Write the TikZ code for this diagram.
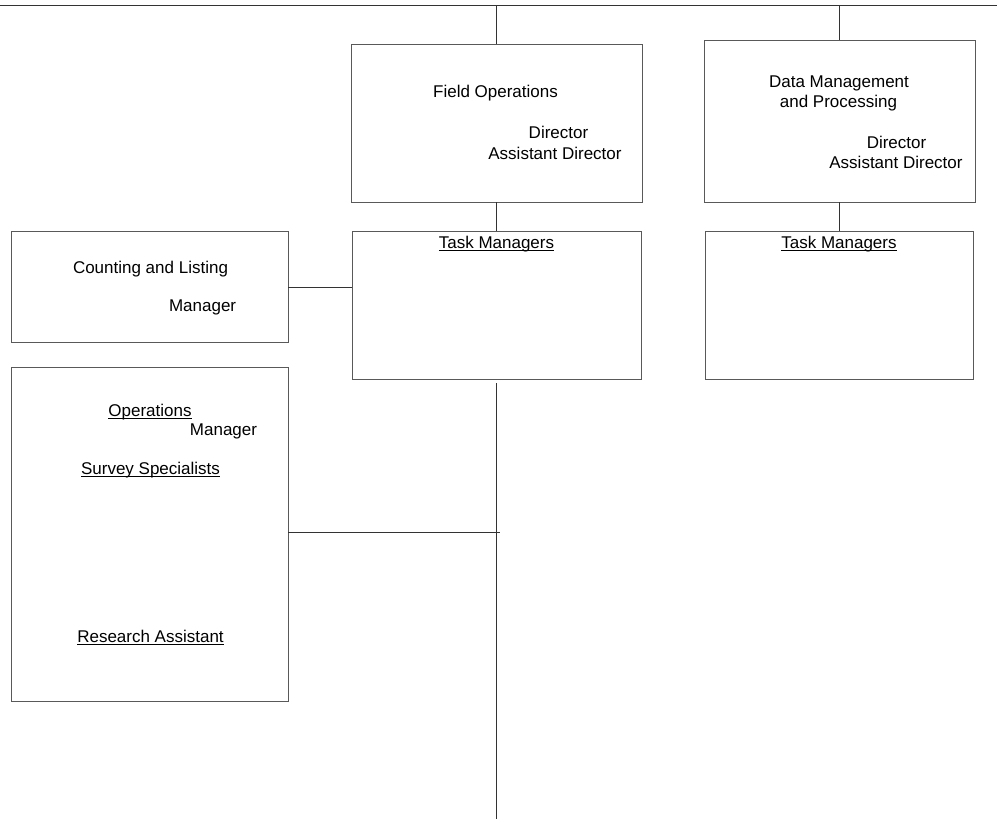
\documentclass[tikz,border=0pt]{standalone}
\usepackage{fontspec}
\setmainfont{Liberation Sans}
\newcommand\myul[1]{\setbox0\hbox{#1}\rlap{\rule[-2.6pt]{\wd0}{1pt}}\box0}
\begin{document}
\begin{tikzpicture}[x=1pt,y=-1pt,
  line/.style={draw=black!80,line width=1pt},
  box/.style={draw=black!65,line width=1pt,rectangle,inner sep=0pt,outer sep=0pt,anchor=north west},
  txt/.style={anchor=base,inner sep=0pt,font=\fontsize{17}{20}\selectfont}]
\useasboundingbox[fill=white] (0,0) rectangle (997,819);
% boxes
\node[box,minimum width=291pt,minimum height=158pt] (fo) at (351,44) {};
\node[box,minimum width=271pt,minimum height=162pt] (dm) at (704,40) {};
\node[box,minimum width=289pt,minimum height=148pt] (tf) at (352,231) {};
\node[box,minimum width=268pt,minimum height=148pt] (td) at (705,231) {};
\node[box,minimum width=277pt,minimum height=111pt] (cl) at (11,231) {};
\node[box,minimum width=277pt,minimum height=334pt] (op) at (11,367) {};
% connectors
\coordinate (tl) at (0,5.5);
\coordinate (tr) at (997,5.5);
\draw[line] (tl) -- (tr);
\draw[line] (fo.north) -- (fo.north |- tl);
\draw[line] (dm.north) -- (dm.north |- tl);
\draw[line] (fo.south) -- (tf.north);
\draw[line] (dm.south) -- (dm.south |- td.north);
\draw[line] ([yshift=-1pt]cl.east) -- ([yshift=-1pt]cl.east -| tf.west);
\coordinate (sptop) at ([yshift=-4pt]tf.south);
\coordinate (spbot) at (tf.south |- 0,819);
\draw[line] (sptop) -- (spbot);
\draw[line] ([yshift=1.5pt]op.east) -- ([xshift=3pt,yshift=1.5pt]op.east -| sptop);
% texts
\node[txt] (t1) at (495.5,97) {Field Operations};
\node[txt] (t2) at (558.5,138) {Director};
\node[txt] (t3) at (555,159) {Assistant Director};
\node[txt] (t4) at (839,87) {Data Management};
\node[txt] (t5) at (838.5,107) {and Processing};
\node[txt] (t6) at (896.5,148) {Director};
\node[txt] (t7) at (896,168) {Assistant Director};
\node[txt] (t8) at (496.5,248) {\myul{Task Managers}};
\node[txt] (t9) at (839,248) {\myul{Task Managers}};
\node[txt] (t10) at (150.5,273) {Counting and Listing};
\node[txt] (t11) at (202.6,311) {Manager};
\node[txt] (t12) at (150,416) {\myul{Operations}};
\node[txt] (t13) at (223.5,435) {Manager};
\node[txt] (t14) at (150.5,474) {\myul{Survey Specialists}};
\node[txt] (t15) at (150.5,642) {\myul{Research Assistant}};
\end{tikzpicture}
\end{document}
